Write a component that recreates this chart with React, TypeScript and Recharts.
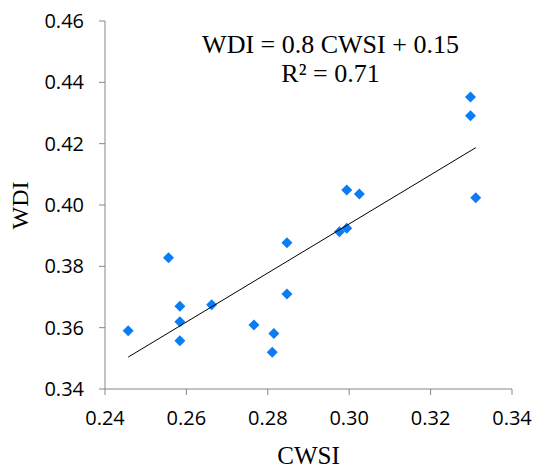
import React from 'react';
import { ScatterChart, Scatter, XAxis, YAxis, Label } from 'recharts';

// values
const cwsi = [
  0.2457, 0.2556, 0.2584, 0.2584, 0.2584, 0.2662, 0.2766, 0.2815, 0.2811,
  0.2847, 0.2847, 0.2976, 0.2994, 0.2994, 0.3025, 0.3298, 0.3298, 0.3311,
];
const wdi = [
  0.359, 0.3828, 0.367, 0.3619, 0.3557, 0.3675, 0.3609, 0.3581, 0.352,
  0.371, 0.3877, 0.3913, 0.3924, 0.4049, 0.4036, 0.4352, 0.4291, 0.4024,
];
const trendX = [0.2457, 0.3311];
const trendY = [0.3504, 0.4187];
const xTicks = [0.24, 0.26, 0.28, 0.3, 0.32, 0.34];
const yTicks = [0.34, 0.36, 0.38, 0.4, 0.42, 0.44, 0.46];

const points = cwsi.map((x, i) => ({ x, y: wdi[i] }));
const trend = trendX.map((x, i) => ({ x, y: trendY[i] }));

const axisColor = '#868686';
const tickFont = { fontFamily: '"Open Sans", sans-serif', fontSize: 20, fill: '#000' };
const serif = '"Liberation Serif", "Times New Roman", serif';

const Diamond = (props: any) => {
  const { cx, cy } = props;
  const r = 5.5;
  return (
    <path
      d={`M${cx},${cy - r}L${cx + r},${cy}L${cx},${cy + r}L${cx - r},${cy}Z`}
      fill="#0a7df5"
    />
  );
};

const NoDot = () => null;

export default function App() {
  return (
    <div style={{ position: 'absolute', left: 0, top: 0, width: 536, height: 468, background: '#fff' }}>
      <ScatterChart width={536} height={468} margin={{ top: 21, right: 24, bottom: 29, left: 0 }}>
        <XAxis
          type="number"
          dataKey="x"
          domain={[0.24, 0.34]}
          ticks={xTicks}
          tickFormatter={(v: number) => v.toFixed(2)}
          tick={tickFont}
          tickSize={6}
          tickMargin={16}
          height={50}
          stroke={axisColor}
          allowDataOverflow
        >
          <Label
            content={() => (
              <text x={308.5} y={464} textAnchor="middle" fontFamily={serif} fontSize={25} fill="#000">
                CWSI
              </text>
            )}
          />
        </XAxis>
        <YAxis
          type="number"
          dataKey="y"
          domain={[0.34, 0.46]}
          ticks={yTicks}
          tickFormatter={(v: number) => v.toFixed(2)}
          tick={tickFont}
          tickSize={6}
          tickMargin={15}
          width={105}
          stroke={axisColor}
          allowDataOverflow
        >
          <Label
            content={() => (
              <text
                x={20}
                y={205.5}
                transform="rotate(-90 20 205.5)"
                textAnchor="middle"
                dominantBaseline="central"
                fontFamily={serif}
                fontSize={24}
                fill="#000"
              >
                WDI
              </text>
            )}
          />
        </YAxis>
        <Scatter data={points} shape={<Diamond />} isAnimationActive={false} />
        <Scatter
          data={trend}
          line={{ stroke: '#000', strokeWidth: 1 }}
          shape={<NoDot />}
          isAnimationActive={false}
        />
      </ScatterChart>
      <div
        style={{
          position: 'absolute',
          left: 330.5,
          top: 0,
          transform: 'translateX(-50%)',
          fontFamily: serif,
          fontSize: 26,
          color: '#000',
          textAlign: 'center',
          whiteSpace: 'nowrap',
        }}
      >
        <div style={{ position: 'absolute', left: '50%', top: 30, transform: 'translateX(-50%)', lineHeight: '30px' }}>
          WDI = 0.8 CWSI + 0.15
        </div>
        <div style={{ position: 'absolute', left: '50%', top: 59, transform: 'translateX(-50%)', lineHeight: '30px' }}>
          R² = 0.71
        </div>
      </div>
    </div>
  );
}
